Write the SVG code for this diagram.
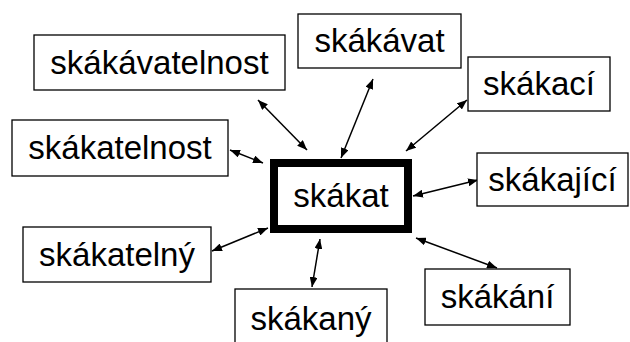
<svg xmlns="http://www.w3.org/2000/svg" width="630" height="342" viewBox="0 0 630 342">
<defs>
<marker id="ah" viewBox="0 0 10 8" refX="10" refY="4" markerWidth="10" markerHeight="8" markerUnits="userSpaceOnUse" orient="auto-start-reverse">
<path d="M0,0 L10,4 L0,8 Z" fill="#000"/>
</marker>
<style>
.box{fill:#fff;stroke:#000;stroke-width:1.3}
.main{fill:#fff;stroke:#000;stroke-width:8}
.t{font-family:"Liberation Sans",Arial,sans-serif;font-size:33px;fill:#000;text-anchor:middle}
.c{stroke:#000;stroke-width:1.5;fill:none;marker-start:url(#ah);marker-end:url(#ah)}
</style>
</defs>
<rect width="630" height="342" fill="#fff"/>
<g id="connectors">
<line class="c" x1="258" y1="100" x2="307" y2="150"/>
<line class="c" x1="230" y1="150" x2="263" y2="163"/>
<line class="c" x1="373" y1="79" x2="341" y2="158"/>
<line class="c" x1="467" y1="100" x2="406" y2="151"/>
<line class="c" x1="413" y1="196" x2="478" y2="180"/>
<line class="c" x1="416" y1="238" x2="497" y2="268"/>
<line class="c" x1="320" y1="239" x2="312" y2="287"/>
<line class="c" x1="212" y1="251" x2="268" y2="228"/>
</g>
<g id="skakat"><rect class="main" x="274" y="163" width="134" height="66"/><text class="t" x="341" y="207">skákat</text></g>
<g id="skakavatelnost"><rect class="box" x="34" y="35" width="251" height="55"/><text class="t" x="159.5" y="74">skákávatelnost</text></g>
<g id="skakatelnost"><rect class="box" x="12" y="120" width="216" height="56"/><text class="t" x="120" y="159">skákatelnost</text></g>
<g id="skakavat"><rect class="box" x="298" y="14" width="163" height="54"/><text class="t" x="379.5" y="52">skákávat</text></g>
<g id="skakaci"><rect class="box" x="468" y="57" width="142" height="54"/><text class="t" x="539" y="95">skákací</text></g>
<g id="skakajici"><rect class="box" x="477" y="153" width="151" height="53"/><text class="t" x="552.5" y="191">skákající</text></g>
<g id="skakatelny"><rect class="box" x="23" y="227" width="188" height="55"/><text class="t" x="117" y="266">skákatelný</text></g>
<g id="skakany"><rect class="box" x="235" y="289" width="152" height="60"/><text class="t" x="311" y="330">skákaný</text></g>
<g id="skakani"><rect class="box" x="425" y="269" width="145" height="56"/><text class="t" x="497.5" y="308">skákání</text></g>
</svg>
